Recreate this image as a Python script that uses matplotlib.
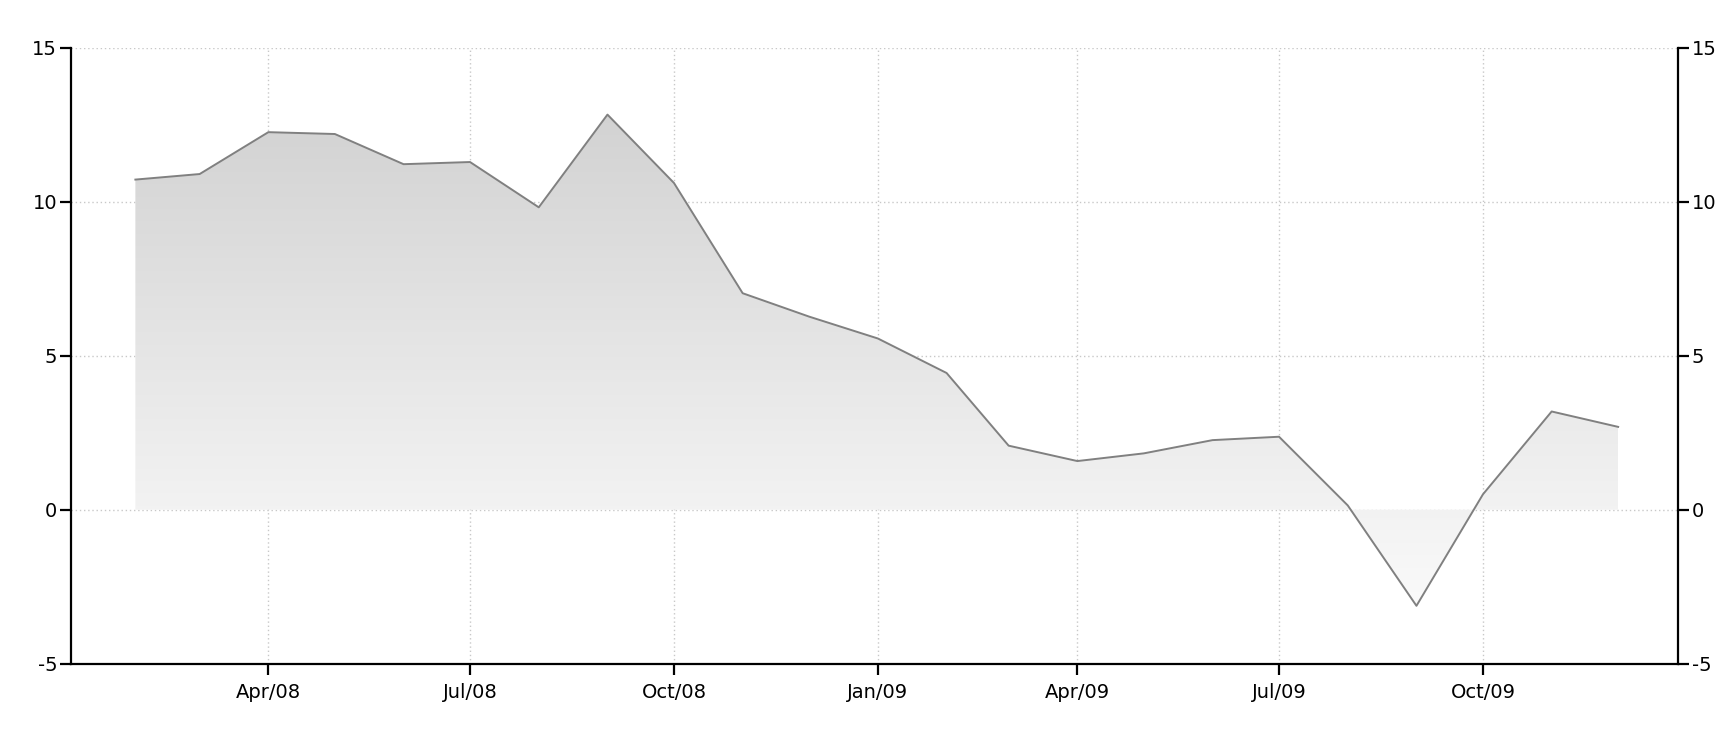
import matplotlib
matplotlib.use("Agg")
import matplotlib.pyplot as plt
import matplotlib.dates as mdates
import numpy as np
import datetime as dt
from matplotlib.patches import Polygon
from matplotlib.colors import LinearSegmentedColormap

plt.rcParams["axes.unicode_minus"] = False

months = ["2008-02", "2008-03", "2008-04", "2008-05", "2008-06", "2008-07", "2008-08",
          "2008-09", "2008-10", "2008-11", "2008-12", "2009-01", "2009-02", "2009-03",
          "2009-04", "2009-05", "2009-06", "2009-07", "2009-08", "2009-09", "2009-10",
          "2009-11", "2009-12"]
values = [10.72, 10.9, 12.26, 12.2, 11.22, 11.29, 9.82, 12.83, 10.61, 7.03, 6.27,
          5.56, 4.44, 2.08, 1.58, 1.83, 2.26, 2.37, 0.14, -3.12, 0.5, 3.19, 2.69]
tick_labels = ["Apr/08", "Jul/08", "Oct/08", "Jan/09", "Apr/09", "Jul/09", "Oct/09"]
tick_dates = ["2008-04", "2008-07", "2008-10", "2009-01", "2009-04", "2009-07", "2009-10"]
y_ticks = [-5, 0, 5, 10, 15]

def to_date(s):
    y, m = s.split("-")
    return dt.datetime(int(y), int(m), 1)

x = mdates.date2num([to_date(m) for m in months])
y = np.array(values)

fig = plt.figure(figsize=(17.34, 7.35), dpi=100)
ax = fig.add_axes([0.041, 0.097, 0.9267, 0.838])

xmin = mdates.date2num(dt.datetime(2008, 1, 3))
xmax = mdates.date2num(dt.datetime(2009, 12, 28))

# gradient fill between line and zero
verts = [(x[0], 0)] + list(zip(x, y)) + [(x[-1], 0)]
poly = Polygon(verts, closed=True, facecolor="none", edgecolor="none")
ax.add_patch(poly)
grad = np.linspace(0, 1, 256).reshape(-1, 1)
cmap = LinearSegmentedColormap.from_list("g", ["#d2d2d2", "#fbfbfb"])
im = ax.imshow(grad, extent=[x[0], x[-1], -3.5, 13], aspect="auto", cmap=cmap,
               origin="upper", zorder=1)
im.set_clip_path(poly)
ax.set_ylim(-5, 15)
ax.set_xlim(xmin, xmax)

ax.plot(x, y, color="#808080", lw=1.4, zorder=3)

ax.set_xticks(mdates.date2num([to_date(d) for d in tick_dates]))
ax.set_xticklabels(tick_labels)
ax.set_yticks(y_ticks)

ax.grid(True, color="#c8c8c8", linestyle=(0, (1, 2)), linewidth=1)
ax.set_axisbelow(True)

ax.spines["top"].set_visible(False)
for s in ["left", "right", "bottom"]:
    ax.spines[s].set_color("black")
    ax.spines[s].set_linewidth(1.6)

ax.tick_params(axis="both", direction="out", length=8, width=1.6, labelsize=14,
               colors="black", pad=4)
ax.tick_params(axis="y", right=True, labelright=True, pad=2)
ax.tick_params(axis="x", pad=6)

fig.savefig("out.png", dpi=100, facecolor="white")
